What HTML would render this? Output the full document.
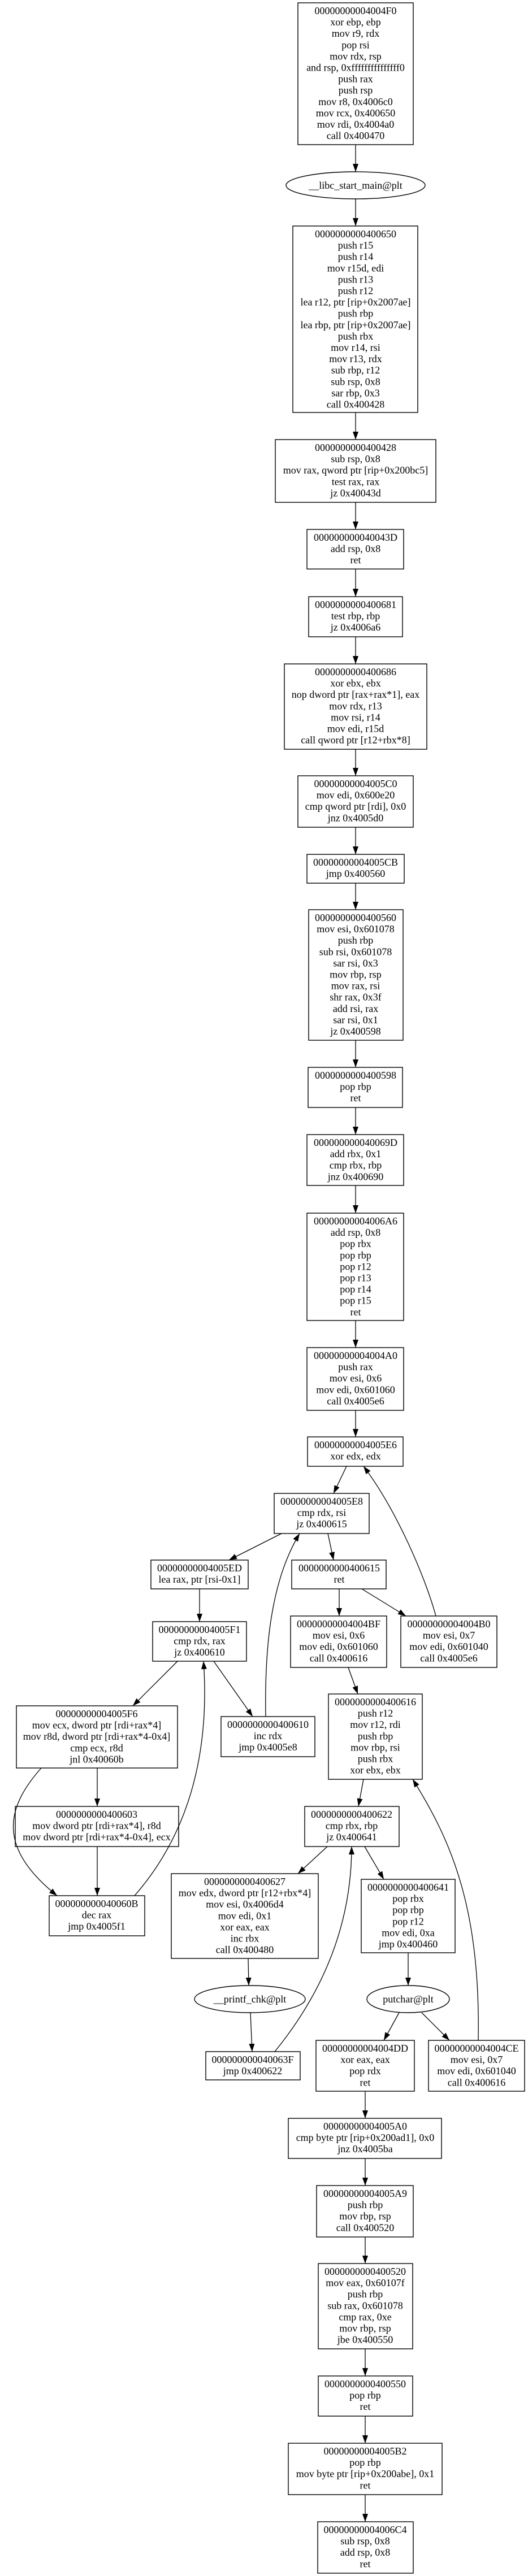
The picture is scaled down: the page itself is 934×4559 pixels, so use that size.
<!DOCTYPE html>
<html><head><meta charset="utf-8"><style>
html,body{margin:0;padding:0;background:#fff}
svg{display:block}
text{font-family:"Liberation Serif",serif;font-size:18px;text-anchor:middle;fill:#000}
rect,ellipse{fill:none;stroke:#000;stroke-width:1.4}
.e{fill:none;stroke:#000;stroke-width:1.3}
</style></head><body>
<svg width="934" height="4559" viewBox="0 0 934 4559" xmlns="http://www.w3.org/2000/svg">
<defs><marker id="a" markerUnits="userSpaceOnUse" markerWidth="14" markerHeight="10" viewBox="0 0 14 10" refX="14" refY="5" orient="auto"><path d="M0,0 L14,5 L0,10 z" fill="#000"/></marker></defs>

<rect x="527" y="5" width="204" height="251"/>
<text y="25"><tspan x="629">00000000004004F0</tspan><tspan x="629" dy="20.1">xor ebp, ebp</tspan><tspan x="629" dy="20.1">mov r9, rdx</tspan><tspan x="629" dy="20.1">pop rsi</tspan><tspan x="629" dy="20.1">mov rdx, rsp</tspan><tspan x="629" dy="20.1">and rsp, 0xfffffffffffffff0</tspan><tspan x="629" dy="20.1">push rax</tspan><tspan x="629" dy="20.1">push rsp</tspan><tspan x="629" dy="20.1">mov r8, 0x4006c0</tspan><tspan x="629" dy="20.1">mov rcx, 0x400650</tspan><tspan x="629" dy="20.1">mov rdi, 0x4004a0</tspan><tspan x="629" dy="20.1">call 0x400470</tspan></text>

<ellipse cx="629" cy="328" rx="123" ry="24"/>
<text x="629" y="334">__libc_start_main@plt</text>

<rect x="518" y="400" width="221" height="330"/>
<text y="420"><tspan x="629">0000000000400650</tspan><tspan x="629" dy="20.1">push r15</tspan><tspan x="629" dy="20.1">push r14</tspan><tspan x="629" dy="20.1">mov r15d, edi</tspan><tspan x="629" dy="20.1">push r13</tspan><tspan x="629" dy="20.1">push r12</tspan><tspan x="629" dy="20.1">lea r12, ptr [rip+0x2007ae]</tspan><tspan x="629" dy="20.1">push rbp</tspan><tspan x="629" dy="20.1">lea rbp, ptr [rip+0x2007ae]</tspan><tspan x="629" dy="20.1">push rbx</tspan><tspan x="629" dy="20.1">mov r14, rsi</tspan><tspan x="629" dy="20.1">mov r13, rdx</tspan><tspan x="629" dy="20.1">sub rbp, r12</tspan><tspan x="629" dy="20.1">sub rsp, 0x8</tspan><tspan x="629" dy="20.1">sar rbp, 0x3</tspan><tspan x="629" dy="20.1">call 0x400428</tspan></text>

<rect x="487" y="778" width="284" height="111"/>
<text y="798"><tspan x="629">0000000000400428</tspan><tspan x="629" dy="20.1">sub rsp, 0x8</tspan><tspan x="629" dy="20.1">mov rax, qword ptr [rip+0x200bc5]</tspan><tspan x="629" dy="20.1">test rax, rax</tspan><tspan x="629" dy="20.1">jz 0x40043d</tspan></text>

<rect x="543" y="937" width="171" height="70"/>
<text y="957"><tspan x="629">000000000040043D</tspan><tspan x="629" dy="20.1">add rsp, 0x8</tspan><tspan x="629" dy="20.1">ret</tspan></text>

<rect x="546" y="1056" width="166" height="71"/>
<text y="1076"><tspan x="629">0000000000400681</tspan><tspan x="629" dy="20.1">test rbp, rbp</tspan><tspan x="629" dy="20.1">jz 0x4006a6</tspan></text>

<rect x="503" y="1175" width="252" height="151"/>
<text y="1195"><tspan x="629">0000000000400686</tspan><tspan x="629" dy="20.1">xor ebx, ebx</tspan><tspan x="629" dy="20.1">nop dword ptr [rax+rax*1], eax</tspan><tspan x="629" dy="20.1">mov rdx, r13</tspan><tspan x="629" dy="20.1">mov rsi, r14</tspan><tspan x="629" dy="20.1">mov edi, r15d</tspan><tspan x="629" dy="20.1">call qword ptr [r12+rbx*8]</tspan></text>

<rect x="527" y="1373" width="204" height="91"/>
<text y="1393"><tspan x="629">00000000004005C0</tspan><tspan x="629" dy="20.1">mov edi, 0x600e20</tspan><tspan x="629" dy="20.1">cmp qword ptr [rdi], 0x0</tspan><tspan x="629" dy="20.1">jnz 0x4005d0</tspan></text>

<rect x="543" y="1512" width="172" height="51"/>
<text y="1532"><tspan x="629">00000000004005CB</tspan><tspan x="629" dy="20.1">jmp 0x400560</tspan></text>

<rect x="546" y="1610" width="167" height="231"/>
<text y="1630"><tspan x="629">0000000000400560</tspan><tspan x="629" dy="20.1">mov esi, 0x601078</tspan><tspan x="629" dy="20.1">push rbp</tspan><tspan x="629" dy="20.1">sub rsi, 0x601078</tspan><tspan x="629" dy="20.1">sar rsi, 0x3</tspan><tspan x="629" dy="20.1">mov rbp, rsp</tspan><tspan x="629" dy="20.1">mov rax, rsi</tspan><tspan x="629" dy="20.1">shr rax, 0x3f</tspan><tspan x="629" dy="20.1">add rsi, rax</tspan><tspan x="629" dy="20.1">sar rsi, 0x1</tspan><tspan x="629" dy="20.1">jz 0x400598</tspan></text>

<rect x="545" y="1889" width="167" height="71"/>
<text y="1909"><tspan x="629">0000000000400598</tspan><tspan x="629" dy="20.1">pop rbp</tspan><tspan x="629" dy="20.1">ret</tspan></text>

<rect x="543" y="2008" width="171" height="90"/>
<text y="2028"><tspan x="629">000000000040069D</tspan><tspan x="629" dy="20.1">add rbx, 0x1</tspan><tspan x="629" dy="20.1">cmp rbx, rbp</tspan><tspan x="629" dy="20.1">jnz 0x400690</tspan></text>

<rect x="543" y="2147" width="171" height="190"/>
<text y="2167"><tspan x="629">00000000004006A6</tspan><tspan x="629" dy="20.1">add rsp, 0x8</tspan><tspan x="629" dy="20.1">pop rbx</tspan><tspan x="629" dy="20.1">pop rbp</tspan><tspan x="629" dy="20.1">pop r12</tspan><tspan x="629" dy="20.1">pop r13</tspan><tspan x="629" dy="20.1">pop r14</tspan><tspan x="629" dy="20.1">pop r15</tspan><tspan x="629" dy="20.1">ret</tspan></text>

<rect x="543" y="2385" width="171" height="111"/>
<text y="2405"><tspan x="629">00000000004004A0</tspan><tspan x="629" dy="20.1">push rax</tspan><tspan x="629" dy="20.1">mov esi, 0x6</tspan><tspan x="629" dy="20.1">mov edi, 0x601060</tspan><tspan x="629" dy="20.1">call 0x4005e6</tspan></text>

<rect x="544" y="2543" width="169" height="52"/>
<text y="2563"><tspan x="629">00000000004005E6</tspan><tspan x="629" dy="20.1">xor edx, edx</tspan></text>

<rect x="485" y="2643" width="168" height="71"/>
<text y="2663"><tspan x="569">00000000004005E8</tspan><tspan x="569" dy="20.1">cmp rdx, rsi</tspan><tspan x="569" dy="20.1">jz 0x400615</tspan></text>

<rect x="267" y="2761" width="172" height="51"/>
<text y="2781"><tspan x="353">00000000004005ED</tspan><tspan x="353" dy="20.1">lea rax, ptr [rsi-0x1]</tspan></text>

<rect x="516" y="2761" width="167" height="51"/>
<text y="2781"><tspan x="600">0000000000400615</tspan><tspan x="600" dy="20.1">ret</tspan></text>

<rect x="270" y="2870" width="166" height="70"/>
<text y="2890"><tspan x="353">00000000004005F1</tspan><tspan x="353" dy="20.1">cmp rdx, rax</tspan><tspan x="353" dy="20.1">jz 0x400610</tspan></text>

<rect x="514" y="2860" width="170" height="91"/>
<text y="2880"><tspan x="599">00000000004004BF</tspan><tspan x="599" dy="20.1">mov esi, 0x6</tspan><tspan x="599" dy="20.1">mov edi, 0x601060</tspan><tspan x="599" dy="20.1">call 0x400616</tspan></text>

<rect x="709" y="2860" width="170" height="91"/>
<text y="2880"><tspan x="794">00000000004004B0</tspan><tspan x="794" dy="20.1">mov esi, 0x7</tspan><tspan x="794" dy="20.1">mov edi, 0x601040</tspan><tspan x="794" dy="20.1">call 0x4005e6</tspan></text>

<rect x="29" y="3019" width="285" height="110"/>
<text y="3039"><tspan x="171">00000000004005F6</tspan><tspan x="171" dy="20.1">mov ecx, dword ptr [rdi+rax*4]</tspan><tspan x="171" dy="20.1">mov r8d, dword ptr [rdi+rax*4-0x4]</tspan><tspan x="171" dy="20.1">cmp ecx, r8d</tspan><tspan x="171" dy="20.1">jnl 0x40060b</tspan></text>

<rect x="391" y="3038" width="166" height="71"/>
<text y="3058"><tspan x="474">0000000000400610</tspan><tspan x="474" dy="20.1">inc rdx</tspan><tspan x="474" dy="20.1">jmp 0x4005e8</tspan></text>

<rect x="581" y="2998" width="166" height="151"/>
<text y="3018"><tspan x="664">0000000000400616</tspan><tspan x="664" dy="20.1">push r12</tspan><tspan x="664" dy="20.1">mov r12, rdi</tspan><tspan x="664" dy="20.1">push rbp</tspan><tspan x="664" dy="20.1">mov rbp, rsi</tspan><tspan x="664" dy="20.1">push rbx</tspan><tspan x="664" dy="20.1">xor ebx, ebx</tspan></text>

<rect x="27" y="3197" width="289" height="71"/>
<text y="3217"><tspan x="171">0000000000400603</tspan><tspan x="171" dy="20.1">mov dword ptr [rdi+rax*4], r8d</tspan><tspan x="171" dy="20.1">mov dword ptr [rdi+rax*4-0x4], ecx</tspan></text>

<rect x="87" y="3355" width="169" height="71"/>
<text y="3375"><tspan x="171">000000000040060B</tspan><tspan x="171" dy="20.1">dec rax</tspan><tspan x="171" dy="20.1">jmp 0x4005f1</tspan></text>

<rect x="539" y="3197" width="167" height="71"/>
<text y="3217"><tspan x="622">0000000000400622</tspan><tspan x="622" dy="20.1">cmp rbx, rbp</tspan><tspan x="622" dy="20.1">jz 0x400641</tspan></text>

<rect x="303" y="3316" width="260" height="150"/>
<text y="3336"><tspan x="433">0000000000400627</tspan><tspan x="433" dy="20.1">mov edx, dword ptr [r12+rbx*4]</tspan><tspan x="433" dy="20.1">mov esi, 0x4006d4</tspan><tspan x="433" dy="20.1">mov edi, 0x1</tspan><tspan x="433" dy="20.1">xor eax, eax</tspan><tspan x="433" dy="20.1">inc rbx</tspan><tspan x="433" dy="20.1">call 0x400480</tspan></text>

<rect x="639" y="3326" width="166" height="130"/>
<text y="3346"><tspan x="722">0000000000400641</tspan><tspan x="722" dy="20.1">pop rbx</tspan><tspan x="722" dy="20.1">pop rbp</tspan><tspan x="722" dy="20.1">pop r12</tspan><tspan x="722" dy="20.1">mov edi, 0xa</tspan><tspan x="722" dy="20.1">jmp 0x400460</tspan></text>

<ellipse cx="442" cy="3538" rx="98" ry="24"/>
<text x="442" y="3544">__printf_chk@plt</text>
<ellipse cx="722" cy="3538" rx="73" ry="24"/>
<text x="722" y="3544">putchar@plt</text>

<rect x="364" y="3631" width="167" height="50"/>
<text y="3651"><tspan x="447">000000000040063F</tspan><tspan x="447" dy="20.1">jmp 0x400622</tspan></text>

<rect x="559" y="3611" width="174" height="90"/>
<text y="3631"><tspan x="646">00000000004004DD</tspan><tspan x="646" dy="20.1">xor eax, eax</tspan><tspan x="646" dy="20.1">pop rdx</tspan><tspan x="646" dy="20.1">ret</tspan></text>

<rect x="758" y="3611" width="170" height="90"/>
<text y="3631"><tspan x="843">00000000004004CE</tspan><tspan x="843" dy="20.1">mov esi, 0x7</tspan><tspan x="843" dy="20.1">mov edi, 0x601040</tspan><tspan x="843" dy="20.1">call 0x400616</tspan></text>

<rect x="510" y="3749" width="271" height="71"/>
<text y="3769"><tspan x="646">00000000004005A0</tspan><tspan x="646" dy="20.1">cmp byte ptr [rip+0x200ad1], 0x0</tspan><tspan x="646" dy="20.1">jnz 0x4005ba</tspan></text>

<rect x="560" y="3868" width="171" height="91"/>
<text y="3888"><tspan x="646">00000000004005A9</tspan><tspan x="646" dy="20.1">push rbp</tspan><tspan x="646" dy="20.1">mov rbp, rsp</tspan><tspan x="646" dy="20.1">call 0x400520</tspan></text>

<rect x="563" y="4006" width="167" height="151"/>
<text y="4026"><tspan x="646">0000000000400520</tspan><tspan x="646" dy="20.1">mov eax, 0x60107f</tspan><tspan x="646" dy="20.1">push rbp</tspan><tspan x="646" dy="20.1">sub rax, 0x601078</tspan><tspan x="646" dy="20.1">cmp rax, 0xe</tspan><tspan x="646" dy="20.1">mov rbp, rsp</tspan><tspan x="646" dy="20.1">jbe 0x400550</tspan></text>

<rect x="563" y="4205" width="167" height="71"/>
<text y="4225"><tspan x="646">0000000000400550</tspan><tspan x="646" dy="20.1">pop rbp</tspan><tspan x="646" dy="20.1">ret</tspan></text>

<rect x="510" y="4324" width="272" height="91"/>
<text y="4344"><tspan x="646">00000000004005B2</tspan><tspan x="646" dy="20.1">pop rbp</tspan><tspan x="646" dy="20.1">mov byte ptr [rip+0x200abe], 0x1</tspan><tspan x="646" dy="20.1">ret</tspan></text>

<rect x="562" y="4463" width="169" height="91"/>
<text y="4483"><tspan x="646">00000000004006C4</tspan><tspan x="646" dy="20.1">sub rsp, 0x8</tspan><tspan x="646" dy="20.1">add rsp, 0x8</tspan><tspan x="646" dy="20.1">ret</tspan></text>

<g>
<path class="e" marker-end="url(#a)" d="M629,256 L629,304"/>
<path class="e" marker-end="url(#a)" d="M629,352 L629,400"/>
<path class="e" marker-end="url(#a)" d="M629,730 L629,778"/>
<path class="e" marker-end="url(#a)" d="M629,889 L629,937"/>
<path class="e" marker-end="url(#a)" d="M629,1007 L629,1056"/>
<path class="e" marker-end="url(#a)" d="M629,1127 L629,1175"/>
<path class="e" marker-end="url(#a)" d="M629,1326 L629,1373"/>
<path class="e" marker-end="url(#a)" d="M629,1464 L629,1512"/>
<path class="e" marker-end="url(#a)" d="M629,1563 L629,1610"/>
<path class="e" marker-end="url(#a)" d="M629,1841 L629,1889"/>
<path class="e" marker-end="url(#a)" d="M629,1960 L629,2008"/>
<path class="e" marker-end="url(#a)" d="M629,2098 L629,2147"/>
<path class="e" marker-end="url(#a)" d="M629,2337 L629,2385"/>
<path class="e" marker-end="url(#a)" d="M629,2496 L629,2543"/>
<path class="e" marker-end="url(#a)" d="M613,2595 L590,2643"/>
<path class="e" marker-end="url(#a)" d="M771,2860 C752,2790 700,2670 643,2595"/>
<path class="e" marker-end="url(#a)" d="M498,2714 L405,2761"/>
<path class="e" marker-end="url(#a)" d="M580,2714 L590,2761"/>
<path class="e" marker-end="url(#a)" d="M470,3038 C468,2920 478,2800 530,2714"/>
<path class="e" marker-end="url(#a)" d="M353,2812 L353,2870"/>
<path class="e" marker-end="url(#a)" d="M600,2812 L600,2860"/>
<path class="e" marker-end="url(#a)" d="M640,2812 L718,2860"/>
<path class="e" marker-end="url(#a)" d="M314,2940 L235,3019"/>
<path class="e" marker-end="url(#a)" d="M378,2940 L447,3038"/>
<path class="e" marker-end="url(#a)" d="M238,3355 C330,3250 372,3110 360,2940"/>
<path class="e" marker-end="url(#a)" d="M616,2951 L633,2998"/>
<path class="e" marker-end="url(#a)" d="M73,3129 C10,3200 -5,3270 101,3355"/>
<path class="e" marker-end="url(#a)" d="M172,3129 L172,3197"/>
<path class="e" marker-end="url(#a)" d="M172,3268 L172,3355"/>
<path class="e" marker-end="url(#a)" d="M643,3149 L634,3197"/>
<path class="e" marker-end="url(#a)" d="M579,3268 L527,3316"/>
<path class="e" marker-end="url(#a)" d="M645,3268 L679,3326"/>
<path class="e" marker-end="url(#a)" d="M439,3466 L440,3514"/>
<path class="e" marker-end="url(#a)" d="M722,3456 L722,3514"/>
<path class="e" marker-end="url(#a)" d="M443,3562 L446,3631"/>
<path class="e" marker-end="url(#a)" d="M486,3631 C560,3540 622,3420 622,3268"/>
<path class="e" marker-end="url(#a)" d="M706,3562 L679,3611"/>
<path class="e" marker-end="url(#a)" d="M746,3562 L795,3611"/>
<path class="e" marker-end="url(#a)" d="M846,3611 C850,3380 800,3260 730,3149"/>
<path class="e" marker-end="url(#a)" d="M646,3701 L646,3749"/>
<path class="e" marker-end="url(#a)" d="M646,3820 L646,3868"/>
<path class="e" marker-end="url(#a)" d="M646,3959 L646,4006"/>
<path class="e" marker-end="url(#a)" d="M646,4157 L646,4205"/>
<path class="e" marker-end="url(#a)" d="M646,4276 L646,4324"/>
<path class="e" marker-end="url(#a)" d="M646,4415 L646,4463"/>
</g>
</svg>
</body></html>
